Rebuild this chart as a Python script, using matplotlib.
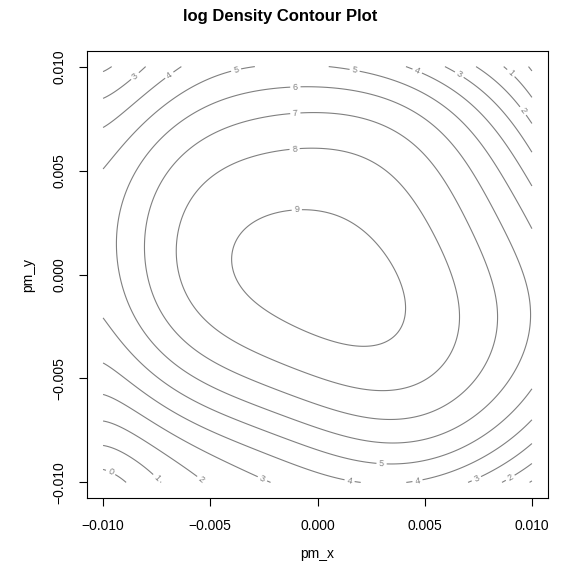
import numpy as np
import matplotlib
matplotlib.use("Agg")
import matplotlib.pyplot as plt

plt.rcParams['font.family'] = ['Liberation Sans', 'DejaVu Sans']

# Traced points on each contour level, x / y in units of 1e-3
c0_x = [-10.0, -9.65, -8.86, 9.7, 10.0]
c0_y = [-9.2, -9.52, -10.0, 10.0, 9.8]
c1_x = [-10.0, -7.93, -7.5, -7.1, 8.6, 9.04, 10.0, 9.85, 10.0]
c1_y = [-8.32, -9.57, -9.8, -10.0, 10.0, 9.71, 8.75, -10.0, -9.85]
c2_x = [-10.0, -5.83, -5.45, -5.0, -9.93, -9.6, 7.55, 9.42, 10.0, 8.8, 9.0, 10.0]
c2_y = [-7.26, -9.76, -9.9, -10.0, 9.71, 9.95, 10.0, 8.03, 7.3, -10.0, -9.8, -9.1]
c3_x = [-10.0, -8.76, -5.97, -2.84, -2.15, -10.0, -9.7, -8.9, -8.53, -8.1, 6.06, 6.53, 8.3, 10.0, 6.9, 7.4, 8.8, 10.0]
c3_y = [-5.5, -6.06, -7.98, -9.8, -10.0, 8.5, 8.7, 9.23, 9.57, 10.0, 10.0, 9.47, 7.5, 5.6, -10.0, -9.8, -9.0, -8.1]
c4_x = [-10.0, -7.04, -4.0, -1.3, 1.17, 1.86, -10.0, -6.9, -6.3, 4.2, 4.6, 7.0, 9.0, 10.0, 3.9, 4.66, 7.0, 10.0]
c4_y = [-4.2, -6.06, -7.5, -8.46, -9.9, -10.0, 7.0, 9.57, 10.0, 10.0, 9.66, 8.0, 5.8, 4.2, -10.0, -9.9, -9.0, -7.0]
c5_x = [-10.0, -7.5, -3.78, -3.2, 1.26, 1.72, 5.0, 7.5, 9.2, 10.0,
        -10.0, -8.0, -4.7, -1.3, 0.0, 2.98, 4.9, 7.5, 9.56, 10.0]
c5_y = [5.1, 7.55, 9.76, 10.0, 10.0, 9.76, 8.5, 6.5, 4.0, 2.5,
        -2.4, -4.6, -6.06, -7.6, -8.3, -9.23, -9.1, -8.0, -6.06, -5.6]
c6_x = [-1.03, 2.0, 4.9, 6.6, 7.7, 8.7, 9.2, 9.1, 8.35, 6.0, 2.75, 0.0, -1.9, -5.0, -7.5, -9.1, -8.6, -5.0]
c6_y = [9.0, 8.85, 8.0, 6.5, 5.0, 2.5, -0.5, -3.0, -6.06, -7.7, -8.22, -7.2, -6.06, -4.4, -2.5, 0.5, 5.0, 8.2]
c7_x = [-1.03, -4.5, -7.04, -7.9, -7.6, -6.43, -5.5, -2.5, 0.5, 2.75, 5.0, 6.6, 7.9, 8.2, 7.6, 5.7, 3.7, 1.5]
c7_y = [7.7, 7.0, 5.0, 2.0, -0.8, -2.84, -4.1, -5.4, -6.06, -7.2, -6.9, -6.06, -3.5, -0.5, 2.5, 5.3, 7.4, 7.6]
c8_x = [-1.07, -2.7, -4.57, -5.83, -6.43, -6.5, -5.8, -4.5, -2.4, 0.0, 2.75, 4.8, 6.2, 6.5, 5.69, 3.68, 1.35]
c8_y = [6.06, 5.87, 5.0, 3.56, 1.3, -0.5, -2.0, -3.3, -4.4, -5.2, -5.6, -5.0, -3.2, -1.0, 1.3, 4.18, 5.63]
c9_x = [-0.98, -2.56, -3.40, -3.68, -3.40, -2.56, -1.17, 0.42, 1.82, 2.89, 3.96, 4.43, 4.29, 3.50, 2.28, 1.03, -0.23]
c9_y = [3.51, 3.08, 2.12, 1.01, 0.05, -0.91, -1.83, -2.69, -3.27, -3.51, -3.17, -2.21, -1.11, 0.19, 1.88, 3.08, 3.46]

# Spot values: summit and the four corners
spot_x = [0.4, -10.0, -10.0, 10.0, 10.0]
spot_y = [-0.1, -10.0, 10.0, 10.0, -10.0]
spot_z = [9.4, -0.5, 1.85, -0.15, 0.95]

trace_x = [c0_x, c1_x, c2_x, c3_x, c4_x, c5_x, c6_x, c7_x, c8_x, c9_x]
trace_y = [c0_y, c1_y, c2_y, c3_y, c4_y, c5_y, c6_y, c7_y, c8_y, c9_y]
levels = [0, 1, 2, 3, 4, 5, 6, 7, 8, 9]

# Contour label anchor positions (x, y in 1e-3)
lab_x = [-9.65, -7.5, 9.04, -5.45, 9.5, 9.0, -8.53, -2.6, 6.53, 7.4, -6.9, 4.6, 1.5, 4.66, -3.78, 1.72, 2.98, -1.03, -1.03, -1.07, -0.98]
lab_y = [-9.52, -9.8, 9.71, -9.9, 7.8, -9.8, 9.57, -9.9, 9.47, -9.8, 9.57, 9.66, -9.9, -9.9, 9.76, 9.76, -9.23, 9.0, 7.7, 6.06, 3.41]

DEG = 7


def design(u, v):
    cols = []
    for i in range(DEG + 1):
        for j in range(DEG + 1 - i):
            cols.append(u ** i * v ** j)
    return np.stack(cols, axis=-1)


# Weighted polynomial log-density surface through the traced level curves
px = np.concatenate([np.asarray(t, float) for t in trace_x] + [np.asarray(spot_x, float)])
py = np.concatenate([np.asarray(t, float) for t in trace_y] + [np.asarray(spot_y, float)])
pz = np.concatenate([np.full(len(t), lv, float) for t, lv in zip(trace_x, levels)] + [np.asarray(spot_z, float)])
wt = np.where(np.maximum(np.abs(px), np.abs(py)) >= 9.5, 3.0, 1.0)
wt = np.where(pz >= 8.0, 2.5, wt)
A = design(px / 10.0, py / 10.0)
Aw = A * wt[:, None]
coef = np.linalg.solve(Aw.T @ Aw + 1e-5 * np.eye(A.shape[1]), Aw.T @ (pz * wt))

gx = np.linspace(-0.01, 0.01, 241)
gy = np.linspace(-0.01, 0.01, 241)
GX, GY = np.meshgrid(gx, gy)
Z = design(GX / 0.01, GY / 0.01) @ coef

fig = plt.figure(figsize=(5.61, 5.68), dpi=100)
ax = fig.add_axes([87 / 561, 1 - 498 / 568, 461 / 561, 447 / 568])
line_col = '#808080'
cs = ax.contour(GX, GY, Z, levels=levels, colors=line_col, linewidths=0.8)
ax.clabel(cs, fmt='%d', fontsize=6.5, colors=line_col, inline=True, inline_spacing=3,
          manual=list(zip(np.asarray(lab_x) * 1e-3, np.asarray(lab_y) * 1e-3)))

ax.set_xlim(-0.01075, 0.01075)
ax.set_ylim(-0.01075, 0.01075)
ticks = [-0.010, -0.005, 0.000, 0.005, 0.010]
tick_labels = ['\u22120.010', '\u22120.005', '0.000', '0.005', '0.010']
ax.set_xticks(ticks)
ax.set_xticklabels(tick_labels)
ax.set_yticks(ticks)
ax.set_yticklabels(tick_labels, rotation=90, va='center')
ax.tick_params(direction='out', length=6, width=0.8, labelsize=10, pad=9)
for s in ax.spines.values():
    s.set_linewidth(0.8)

ax.set_xlabel('pm_x', fontsize=10, labelpad=10)
ax.set_ylabel('pm_y', fontsize=10, labelpad=12)
fig.text(0.5, 1 - 17 / 568, 'log Density Contour Plot', ha='center', va='center',
         fontsize=12, fontweight='bold')

fig.savefig('out.png', dpi=100)
